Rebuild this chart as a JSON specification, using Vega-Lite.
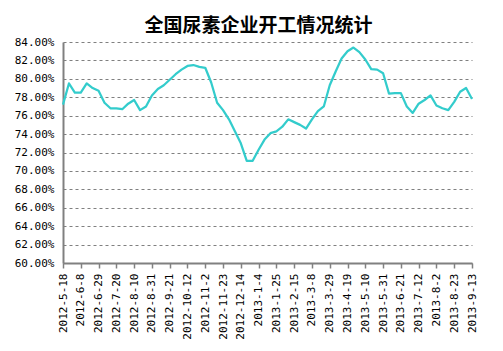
{
  "$schema": "https://vega.github.io/schema/vega-lite/v6.json",
  "autosize": "none",
  "width": 409,
  "height": 221,
  "padding": {"left": 63, "top": 42, "right": 31, "bottom": 88},
  "background": "white",
  "title": {
    "text": "全国尿素企业开工情况统计",
    "font": "Noto Sans CJK SC",
    "fontSize": 19,
    "fontWeight": "bold",
    "color": "#000000",
    "anchor": "middle",
    "dx": -9,
    "dy": 28,
    "baseline": "bottom",
    "offset": 9
  },
  "config": {"view": {"stroke": null}},
  "data": {
    "values": [
      {"date": "2012-5-18", "rate": 77.2},
      {"date": "2012-5-25", "rate": 79.5},
      {"date": "2012-6-1", "rate": 78.5},
      {"date": "2012-6-8", "rate": 78.5},
      {"date": "2012-6-15", "rate": 79.5},
      {"date": "2012-6-22", "rate": 79.0},
      {"date": "2012-6-29", "rate": 78.7},
      {"date": "2012-7-6", "rate": 77.4},
      {"date": "2012-7-13", "rate": 76.8},
      {"date": "2012-7-20", "rate": 76.8},
      {"date": "2012-7-27", "rate": 76.7},
      {"date": "2012-8-3", "rate": 77.3},
      {"date": "2012-8-10", "rate": 77.7},
      {"date": "2012-8-17", "rate": 76.6},
      {"date": "2012-8-24", "rate": 77.0},
      {"date": "2012-8-31", "rate": 78.2},
      {"date": "2012-9-7", "rate": 78.9},
      {"date": "2012-9-14", "rate": 79.3},
      {"date": "2012-9-21", "rate": 79.9},
      {"date": "2012-9-28", "rate": 80.5},
      {"date": "2012-10-5", "rate": 81.0},
      {"date": "2012-10-12", "rate": 81.4},
      {"date": "2012-10-19", "rate": 81.5},
      {"date": "2012-10-26", "rate": 81.3},
      {"date": "2012-11-2", "rate": 81.2},
      {"date": "2012-11-9", "rate": 79.6},
      {"date": "2012-11-16", "rate": 77.4},
      {"date": "2012-11-23", "rate": 76.6},
      {"date": "2012-11-30", "rate": 75.6},
      {"date": "2012-12-7", "rate": 74.3},
      {"date": "2012-12-14", "rate": 73.0},
      {"date": "2012-12-21", "rate": 71.1},
      {"date": "2012-12-28", "rate": 71.1},
      {"date": "2013-1-4", "rate": 72.3},
      {"date": "2013-1-11", "rate": 73.4},
      {"date": "2013-1-18", "rate": 74.1},
      {"date": "2013-1-25", "rate": 74.3},
      {"date": "2013-2-1", "rate": 74.8},
      {"date": "2013-2-8", "rate": 75.6},
      {"date": "2013-2-15", "rate": 75.3},
      {"date": "2013-2-22", "rate": 75.0},
      {"date": "2013-3-1", "rate": 74.6},
      {"date": "2013-3-8", "rate": 75.6},
      {"date": "2013-3-15", "rate": 76.5},
      {"date": "2013-3-22", "rate": 77.0},
      {"date": "2013-3-29", "rate": 79.3},
      {"date": "2013-4-5", "rate": 80.8},
      {"date": "2013-4-12", "rate": 82.2},
      {"date": "2013-4-19", "rate": 83.0},
      {"date": "2013-4-26", "rate": 83.4},
      {"date": "2013-5-3", "rate": 82.9},
      {"date": "2013-5-10", "rate": 82.1},
      {"date": "2013-5-17", "rate": 81.05},
      {"date": "2013-5-24", "rate": 81.0},
      {"date": "2013-5-31", "rate": 80.6},
      {"date": "2013-6-7", "rate": 78.4},
      {"date": "2013-6-14", "rate": 78.45},
      {"date": "2013-6-21", "rate": 78.45},
      {"date": "2013-6-28", "rate": 77.0},
      {"date": "2013-7-5", "rate": 76.3},
      {"date": "2013-7-12", "rate": 77.3},
      {"date": "2013-7-19", "rate": 77.7},
      {"date": "2013-7-26", "rate": 78.2},
      {"date": "2013-8-2", "rate": 77.1},
      {"date": "2013-8-9", "rate": 76.8},
      {"date": "2013-8-16", "rate": 76.6},
      {"date": "2013-8-23", "rate": 77.5},
      {"date": "2013-8-30", "rate": 78.6},
      {"date": "2013-9-6", "rate": 79.0},
      {"date": "2013-9-13", "rate": 77.8}
    ]
  },
  "mark": {"type": "line", "color": "#33CCCC", "strokeWidth": 2.25, "strokeJoin": "round"},
  "encoding": {
    "x": {
      "field": "date",
      "type": "ordinal",
      "sort": null,
      "scale": {"type": "point", "padding": 0},
      "axis": {
        "title": null,
        "values": ["2012-5-18", "2012-6-8", "2012-6-29", "2012-7-20", "2012-8-10", "2012-8-31", "2012-9-21", "2012-10-12", "2012-11-2", "2012-11-23", "2012-12-14", "2013-1-4", "2013-1-25", "2013-2-15", "2013-3-8", "2013-3-29", "2013-4-19", "2013-5-10", "2013-5-31", "2013-6-21", "2013-7-12", "2013-8-2", "2013-8-23", "2013-9-13"],
        "labelAngle": -90,
        "labelAlign": "right",
        "labelBaseline": "middle",
        "labelFont": "DejaVu Sans Mono",
        "labelFontSize": 11,
        "labelColor": "#000000",
        "labelPadding": 5,
        "labelOverlap": false,
        "domainColor": "#808080",
        "domainWidth": 2,
        "tickColor": "#808080",
        "tickSize": 5,
        "tickWidth": 1.5,
        "grid": false
      }
    },
    "y": {
      "field": "rate",
      "type": "quantitative",
      "scale": {"domain": [60, 84], "nice": false, "zero": false},
      "axis": {
        "title": null,
        "values": [60, 62, 64, 66, 68, 70, 72, 74, 76, 78, 80, 82, 84],
        "labelExpr": "format(datum.value, '.2f') + '%'",
        "labelFont": "DejaVu Sans Mono",
        "labelFontSize": 11,
        "labelColor": "#000000",
        "labelPadding": 9,
        "tickSize": 0,
        "domainColor": "#808080",
        "domainWidth": 2,
        "grid": true,
        "gridColor": "#808080",
        "gridDash": [3, 3],
        "gridWidth": 1.2
      }
    }
  }
}
